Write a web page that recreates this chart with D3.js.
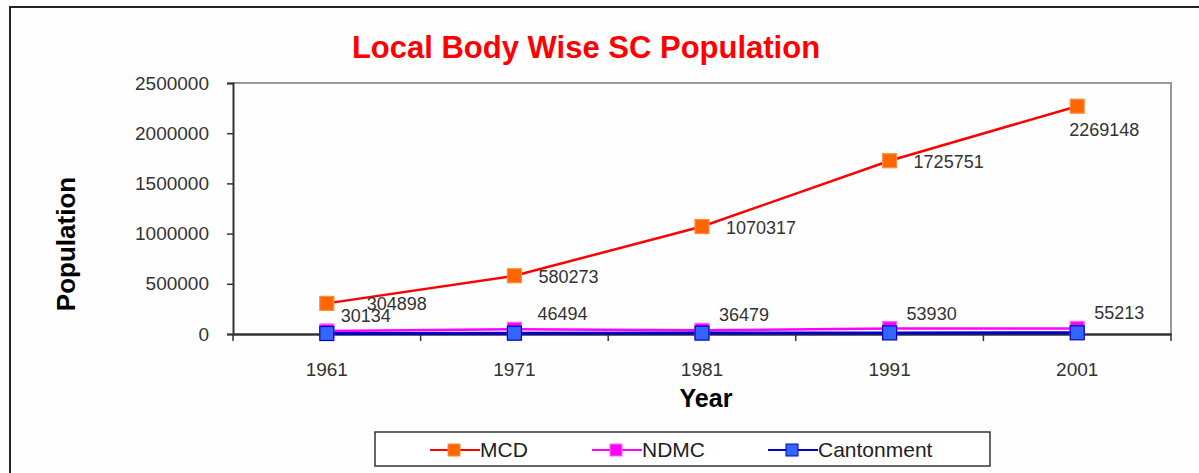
<!DOCTYPE html>
<html><head><meta charset="utf-8">
<script src="https://cdn.jsdelivr.net/npm/d3@7"></script>
<style>body{margin:0;background:#fff}svg{display:block}text{font-family:"Liberation Sans",Arial,sans-serif}</style>
</head><body><svg id="c" width="1199" height="473"></svg>
<script>
const years = ["1961","1971","1981","1991","2001"];
const mcd = [304898, 580273, 1070317, 1725751, 2269148];
const ndmc = [30134, 46494, 36479, 53930, 55213];
const cantonment = [5000, 8000, 9000, 11000, 12000];
const yTicks = [0, 500000, 1000000, 1500000, 2000000, 2500000];
const seriesNames = ["MCD", "NDMC", "Cantonment"];

const svg = d3.select("#c");
svg.append("rect").attr("width",1199).attr("height",473).attr("fill","#fefefe");
svg.append("path").attr("d","M10,480 V7 H1205").attr("fill","none").attr("stroke","#222").attr("stroke-width",2);

const L=233, R=1171, T=83, B=334;
const x = d3.scaleBand().domain(years).range([L,R]);
const y = d3.scaleLinear().domain([0,2500000]).range([B,T]);

svg.append("path").attr("d",`M${L},${T} H${R} V${B}`).attr("fill","none").attr("stroke","#999").attr("stroke-width",2);

const ya = svg.append("g").attr("transform",`translate(${L},0)`)
  .call(d3.axisLeft(y).tickValues(yTicks).tickFormat(d3.format("d")).tickSizeOuter(0).tickSize(6).tickPadding(18));
ya.select(".domain").attr("stroke","#333").attr("stroke-width",2);
ya.selectAll(".tick line").attr("stroke","#333").attr("stroke-width",1.5);
ya.selectAll("text").attr("font-size",19).attr("fill","#333").attr("font-family","Liberation Sans, Arial, sans-serif");

const xa = svg.append("g").attr("transform",`translate(0,${B})`)
  .call(d3.axisBottom(x).tickSize(0).tickPadding(29));
xa.select(".domain").attr("stroke","#333").attr("stroke-width",2.5);
xa.selectAll("text").attr("font-size",19).attr("fill","#333").attr("font-family","Liberation Sans, Arial, sans-serif");
const bounds = years.map(d=>x(d)).concat([R]);
svg.append("g").selectAll("line").data(bounds).join("line")
  .attr("x1",d=>d).attr("x2",d=>d).attr("y1",B).attr("y2",B+7)
  .attr("stroke","#333").attr("stroke-width",1.5);

const cx = d=>x(d)+x.bandwidth()/2;
const series = [
  {name:"MCD", values:mcd, line:"#ff0000", fill:"#ff6600", stroke:"#ff8c40"},
  {name:"NDMC", values:ndmc, line:"#ff00ff", fill:"#ff00ff", stroke:"#ff66ff"},
  {name:"Cantonment", values:cantonment, line:"#0000cc", fill:"#3366ff", stroke:"#0000cc"}
];
const line = d3.line().x((v,i)=>cx(years[i])).y(v=>y(v));
series.forEach(s=>{
  svg.append("path").datum(s.values).attr("d",line).attr("fill","none")
    .attr("stroke",s.line).attr("stroke-width",s.name==="Cantonment"?3:2.5);
});
series.forEach(s=>{
  svg.append("g").selectAll("rect").data(s.values).join("rect")
    .attr("x",(v,i)=>cx(years[i])-7).attr("y",v=>y(v)-7)
    .attr("width",14).attr("height",14)
    .attr("fill",s.fill).attr("stroke",s.stroke).attr("stroke-width",1.2);
});

svg.append("g").selectAll("text").data(mcd).join("text")
  .attr("x",(v,i)=> cx(years[i]) + (i===0?40:(i===mcd.length-1?-8:24)))
  .attr("y",(v,i)=> y(v) + (i===mcd.length-1?30:7))
  .attr("font-size",18).attr("fill","#333").text(v=>v);
svg.append("g").selectAll("text").data(ndmc).join("text")
  .attr("x",(v,i)=> cx(years[i]) + (i===0?14:(i===1?23:17)))
  .attr("y",(v,i)=> y(v) - 9)
  .attr("font-size",18).attr("fill","#333").text(v=>v);

svg.append("text").attr("x",586).attr("y",58).attr("text-anchor","middle")
  .attr("font-size",31).attr("font-weight","bold").attr("fill","#ff0000")
  .text("Local Body Wise SC Population");
svg.append("text").attr("transform","translate(75,244) rotate(-90)").attr("text-anchor","middle")
  .attr("font-size",26).attr("font-weight","bold").attr("fill","#000").text("Population");
svg.append("text").attr("x",706).attr("y",407).attr("text-anchor","middle")
  .attr("font-size",25).attr("font-weight","bold").attr("fill","#000").text("Year");

svg.append("rect").attr("x",375).attr("y",432).attr("width",615).attr("height",34)
  .attr("fill","#fff").attr("stroke","#333").attr("stroke-width",1.5);
const lx = [430, 592, 768];
const lg = svg.append("g").selectAll("g").data(series).join("g")
  .attr("transform",(d,i)=>`translate(${lx[i]},450)`);
lg.append("line").attr("x1",0).attr("x2",50).attr("stroke",d=>d.line).attr("stroke-width",2);
lg.append("rect").attr("x",18).attr("y",-6).attr("width",12).attr("height",12)
  .attr("fill",d=>d.fill).attr("stroke",d=>d.stroke);
lg.append("text").attr("x",50).attr("y",7).attr("font-size",21).attr("fill","#222").text((d,i)=>seriesNames[i]);
</script></body></html>
